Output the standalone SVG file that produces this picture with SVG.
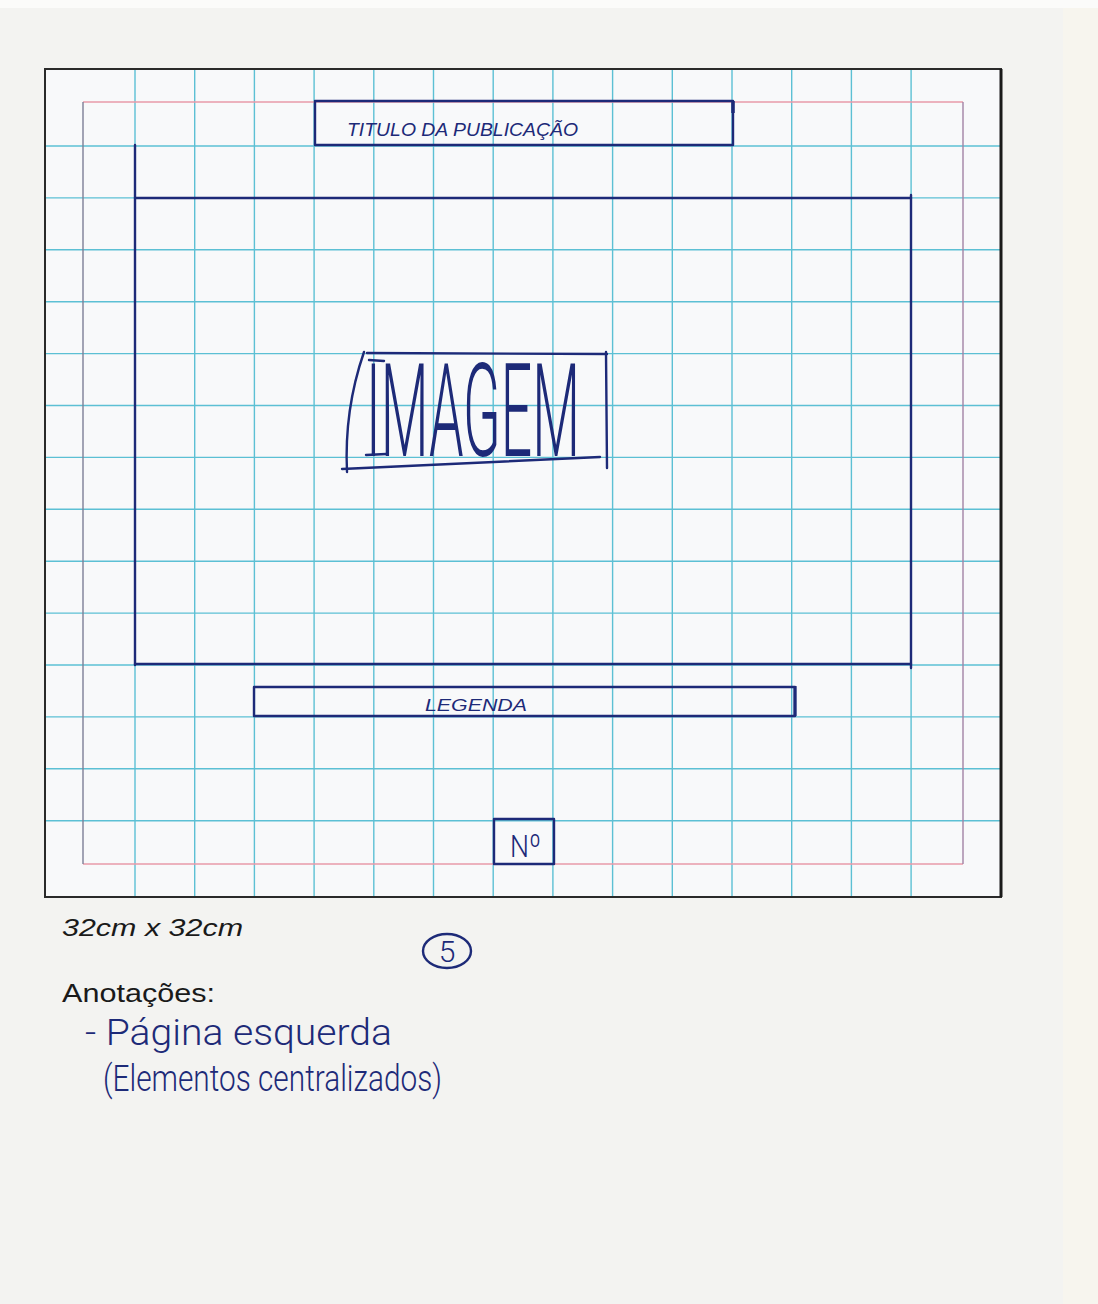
<svg xmlns="http://www.w3.org/2000/svg" width="1098" height="1304" viewBox="0 0 1098 1304">
<style>
.grid{stroke:#5cc0d4;stroke-width:1.4;fill:none}
.pen{stroke:#1d2a78;stroke-width:2.4;fill:none;stroke-linecap:round;stroke-linejoin:round}
.hand{fill:#1d2a78;font-family:"Liberation Sans","DejaVu Sans",sans-serif;font-style:italic}
.thin{fill:#1d2a78;font-family:Roboto,"DejaVu Sans",sans-serif;font-weight:300}
.print{fill:#1a1a1a;font-family:"Liberation Sans",Arial,sans-serif}
</style>
<rect x="0" y="0" width="1098" height="1304" fill="#f3f3f1"/>
<rect x="1063" y="0" width="35" height="1304" fill="#f7f5ee"/>
<rect x="0" y="0" width="1098" height="8" fill="#fbfbfa"/>
<g id="page">
<rect x="45" y="69" width="956" height="828" fill="#f8f9fa"/>
<g id="grid-v" class="grid">
<line x1="135" y1="69" x2="135" y2="897"/><line x1="194.7" y1="69" x2="194.7" y2="897"/>
<line x1="254.4" y1="69" x2="254.4" y2="897"/><line x1="314.1" y1="69" x2="314.1" y2="897"/>
<line x1="373.8" y1="69" x2="373.8" y2="897"/><line x1="433.5" y1="69" x2="433.5" y2="897"/>
<line x1="493.2" y1="69" x2="493.2" y2="897"/><line x1="552.9" y1="69" x2="552.9" y2="897"/>
<line x1="612.6" y1="69" x2="612.6" y2="897"/><line x1="672.3" y1="69" x2="672.3" y2="897"/>
<line x1="732" y1="69" x2="732" y2="897"/><line x1="791.7" y1="69" x2="791.7" y2="897"/>
<line x1="851.4" y1="69" x2="851.4" y2="897"/><line x1="911.1" y1="69" x2="911.1" y2="897"/>
</g>
<g id="grid-h" class="grid">
<line x1="45" y1="146" x2="1001" y2="146"/><line x1="45" y1="197.9" x2="1001" y2="197.9"/>
<line x1="45" y1="249.8" x2="1001" y2="249.8"/><line x1="45" y1="301.7" x2="1001" y2="301.7"/>
<line x1="45" y1="353.6" x2="1001" y2="353.6"/><line x1="45" y1="405.5" x2="1001" y2="405.5"/>
<line x1="45" y1="457.4" x2="1001" y2="457.4"/><line x1="45" y1="509.3" x2="1001" y2="509.3"/>
<line x1="45" y1="561.2" x2="1001" y2="561.2"/><line x1="45" y1="613.1" x2="1001" y2="613.1"/>
<line x1="45" y1="665" x2="1001" y2="665"/><line x1="45" y1="716.9" x2="1001" y2="716.9"/>
<line x1="45" y1="768.8" x2="1001" y2="768.8"/><line x1="45" y1="820.7" x2="1001" y2="820.7"/>
</g>
<g id="margin" fill="none" stroke-width="1.4">
<line x1="83" y1="102" x2="963" y2="102" stroke="#e99aa8"/>
<line x1="83" y1="864" x2="963" y2="864" stroke="#e99aa8"/>
<line x1="83" y1="102" x2="83" y2="864" stroke="#7d7f96"/>
<line x1="963" y1="102" x2="963" y2="864" stroke="#a283a4"/>
</g>
<rect x="45" y="69" width="956" height="828" fill="none" stroke="#2a2a2a" stroke-width="2"/>
<line x1="1001" y1="69" x2="1001" y2="897" stroke="#1a1a1a" stroke-width="3"/>
</g>
<g id="connectors"></g>
<g id="title">
<rect x="315" y="101" width="418" height="44" class="pen"/>
<line x1="733" y1="101" x2="733" y2="113" stroke="#1d2a78" stroke-width="3.5"/>
<text x="347" y="136" class="hand" font-size="19" textLength="231" lengthAdjust="spacingAndGlyphs">TITULO DA PUBLICAÇÃO</text>
</g>
<g id="image-area" class="pen">
<line x1="135" y1="145" x2="135" y2="665"/>
<line x1="135" y1="198" x2="911" y2="198"/>
<line x1="911" y1="195" x2="911" y2="668"/>
<line x1="135" y1="664" x2="911" y2="664"/>
</g>
<g id="imagem">
<path class="pen" d="M364,352 Q344,410 347,472"/>
<path class="pen" d="M367,353 L607,354"/>
<path class="pen" d="M606,352 L607,468"/>
<path class="pen" d="M342,469 L600,457"/>
<path class="pen" d="M369,360 L384,361 M366,455 L386,454"/>
<text x="366" y="456" class="thin" font-size="130" textLength="214" lengthAdjust="spacingAndGlyphs">IMAGEM</text>
</g>
<g id="legenda">
<rect x="254" y="687" width="541" height="29" class="pen"/>
<line x1="795" y1="686" x2="795" y2="716" stroke="#1d2a78" stroke-width="3.2"/>
<text x="425" y="711" class="hand" font-size="17" textLength="102" lengthAdjust="spacingAndGlyphs">LEGENDA</text>
</g>
<g id="numero">
<rect x="494" y="819" width="60" height="45" class="pen" stroke-width="2.8"/>
<text x="510" y="857" class="thin" font-size="32" textLength="31" lengthAdjust="spacingAndGlyphs">Nº</text>
</g>
<g id="labels">
<text x="62" y="936" class="print" font-size="23" font-style="italic" textLength="181" lengthAdjust="spacingAndGlyphs">32cm x 32cm</text>
<text x="62" y="1002" class="print" font-size="25" textLength="153" lengthAdjust="spacingAndGlyphs">Anotações:</text>
</g>
<g id="circled-5">
<ellipse cx="447" cy="951" rx="24" ry="17" class="pen" stroke-width="2"/>
<text x="447" y="962" class="thin" font-size="30" font-weight="400" text-anchor="middle">5</text>
</g>
<g id="notes">
<text x="85" y="1045" class="thin" font-size="36" textLength="307" lengthAdjust="spacingAndGlyphs">- Página esquerda</text>
<text x="103" y="1091" class="thin" font-size="36" textLength="339" lengthAdjust="spacingAndGlyphs">(Elementos centralizados)</text>
</g>
</svg>
